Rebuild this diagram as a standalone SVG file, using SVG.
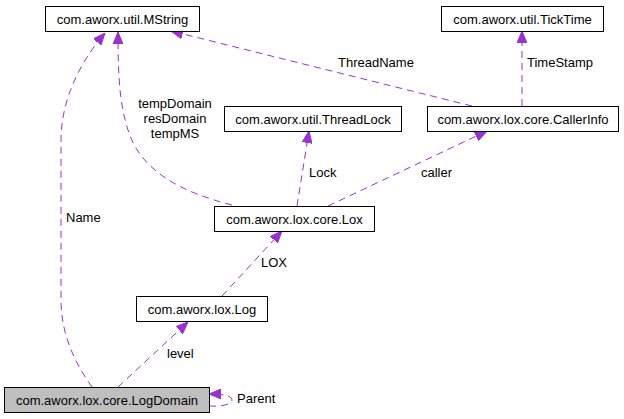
<svg xmlns="http://www.w3.org/2000/svg" width="624" height="419" viewBox="0 0 624 419">
<style>
  text { font-family: "Liberation Sans", Arial, sans-serif; font-size: 13px; fill: #000; }
  .node rect { fill: #fff; stroke: #000; stroke-width: 1; }
  .node.cur rect { fill: #bfbfbf; }
  .node text { text-anchor: middle; }
  .edge { fill: none; stroke: #9a32cd; stroke-width: 1; stroke-dasharray: 7,5; marker-end: url(#arr); }
</style>
<defs>
  <marker id="arr" markerUnits="userSpaceOnUse" markerWidth="12" markerHeight="10" viewBox="0 0 12 10" refX="12" refY="5" orient="auto">
    <path d="M0,0 L12,5 L0,10 z" fill="#9a32cd" stroke="#9a32cd"/>
  </marker>
</defs>
<rect width="624" height="419" fill="#fff"/>
<g id="connectors">
  <path class="edge" d="M92,387 C80,370 61,340 61,300 L61,140 C61,100 80,62 105,33"/>
  <path class="edge" d="M232,205 C180,192 140,170 128,130 C120,105 118,80 118,32"/>
  <path class="edge" d="M472,106 L171,31"/>
  <path class="edge" d="M522,106 L522,31"/>
  <path class="edge" d="M297,206 L309,131"/>
  <path class="edge" d="M328,206 L487,131"/>
  <path class="edge" d="M222,296 L282,231"/>
  <path class="edge" d="M118,387 L188,322"/>
  <path class="edge" d="M209,406 C222,407 232,404 232,400 C232,396 224,394 209,394"/>
  <text x="66" y="222">Name</text>
  <text x="175" y="108" text-anchor="middle">tempDomain</text>
  <text x="175" y="123" text-anchor="middle">resDomain</text>
  <text x="175" y="138" text-anchor="middle">tempMS</text>
  <text x="338" y="67">ThreadName</text>
  <text x="527" y="67">TimeStamp</text>
  <text x="309" y="177">Lock</text>
  <text x="421" y="177">caller</text>
  <text x="261" y="267">LOX</text>
  <text x="167" y="358">level</text>
  <text x="237" y="403">Parent</text>
</g>
<g id="MString" class="node"><rect x="45.5" y="6.5" width="154" height="25"/><text x="122.5" y="23.5">com.aworx.util.MString</text></g>
<g id="TickTime" class="node"><rect x="441.5" y="6.5" width="162" height="25"/><text x="522.5" y="23.5">com.aworx.util.TickTime</text></g>
<g id="ThreadLock" class="node"><rect x="224.5" y="106.5" width="177" height="25"/><text x="313" y="123.5">com.aworx.util.ThreadLock</text></g>
<g id="CallerInfo" class="node"><rect x="427.5" y="106.5" width="191" height="25"/><text x="523" y="123.5">com.aworx.lox.core.CallerInfo</text></g>
<g id="Lox" class="node"><rect x="214.5" y="206.5" width="160" height="25"/><text x="294.5" y="223.5">com.aworx.lox.core.Lox</text></g>
<g id="Log" class="node"><rect x="136.5" y="296.5" width="131" height="25"/><text x="202" y="313.5">com.aworx.lox.Log</text></g>
<g id="LogDomain" class="node cur"><rect x="4.5" y="387.5" width="205" height="25"/><text x="107" y="404.5">com.aworx.lox.core.LogDomain</text></g>
</svg>
